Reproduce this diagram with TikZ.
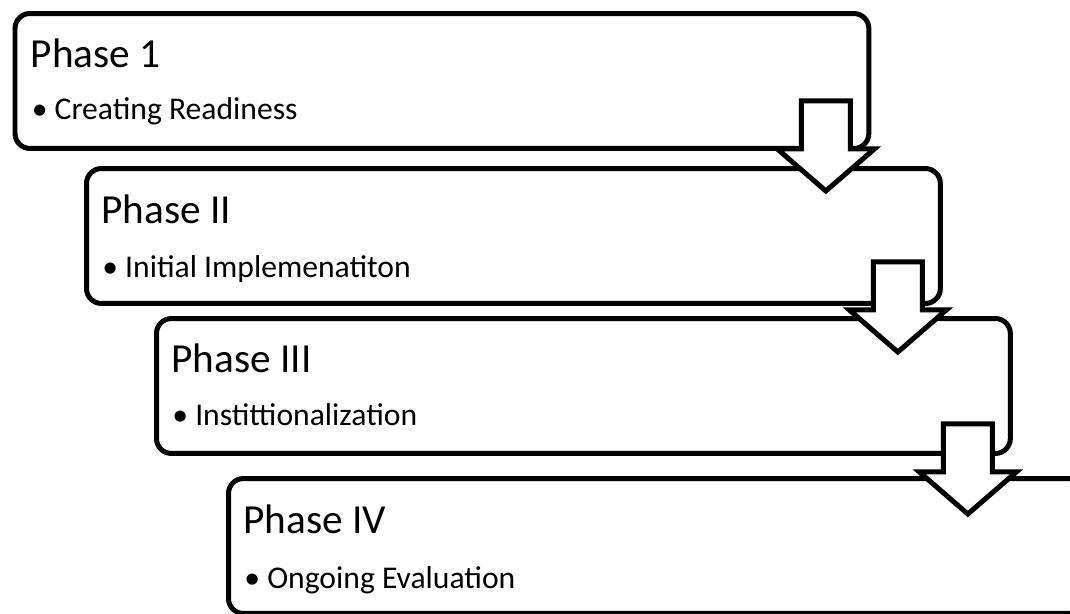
\documentclass[tikz,border=0pt]{standalone}
\usepackage{fontspec}
\setmainfont{Carlito}
\usetikzlibrary{positioning, calc}

\begin{document}
\begin{tikzpicture}[x=0.02cm, y=-0.02cm,
  phasebox/.style={draw=black, fill=white, line width=0.1cm, rounded corners=0.3cm,
    minimum width=17.08cm, minimum height=2.7cm, anchor=north west, inner sep=0pt},
  phasetitle/.style={anchor=base west, inner sep=0pt, font=\fontsize{23.5}{28}\selectfont},
  phaseitem/.style={anchor=base west, inner sep=0pt, font=\fontsize{18}{22}\selectfont},
  blockarr/.style={draw=black, fill=white, line width=0.1cm, line join=miter}]
  \useasboundingbox (0,0) rectangle (1070,613);
  \clip (0,0) rectangle (1070,613);
  % phase boxes
  \node[phasebox] (p1) at (12.5,11) {};
  \node[phasebox] (p2) at (84,166) {};
  \node[phasebox] (p3) at (154,316) {};
  \node[phasebox] (p4) at (226,476) {};
  % texts
  \node[phasetitle] (t1) at ($(p1.north west)+(18,56)$) {Phase 1};
  \node[phaseitem]  (b1) at ($(p1.north west)+(19,108)$) {• Creating Readiness};
  \node[phasetitle] (t2) at ($(p2.north west)+(17,57)$) {Phase II};
  \node[phaseitem]  (b2) at ($(p2.north west)+(18,111)$) {• Initial Implemenatiton};
  \node[phasetitle] (t3) at ($(p3.north west)+(17,56)$) {Phase III};
  \node[phaseitem]  (b3) at ($(p3.north west)+(18,109)$) {• Instittionalization};
  \node[phasetitle] (t4) at ($(p4.north west)+(17,57)$) {Phase IV};
  \node[phaseitem]  (b4) at ($(p4.north west)+(18,112)$) {• Ongoing Evaluation};
  % down arrows
  \coordinate (a1) at ($(p1.south east)+(-45.5,40)$);
  \coordinate (a2) at ($(p2.south east)+(-45,46)$);
  \coordinate (a3) at ($(p3.south east)+(-45,58)$);
  \foreach \n in {1,2,3}
    \draw[blockarr] ($(a\n)+(-24.5,-90)$) -- ++(49,0) -- ++(0,48) -- ++(24,0)
      -- (a\n) -- ++(-48.5,-42) -- ++(24,0) -- cycle;
\end{tikzpicture}
\end{document}
